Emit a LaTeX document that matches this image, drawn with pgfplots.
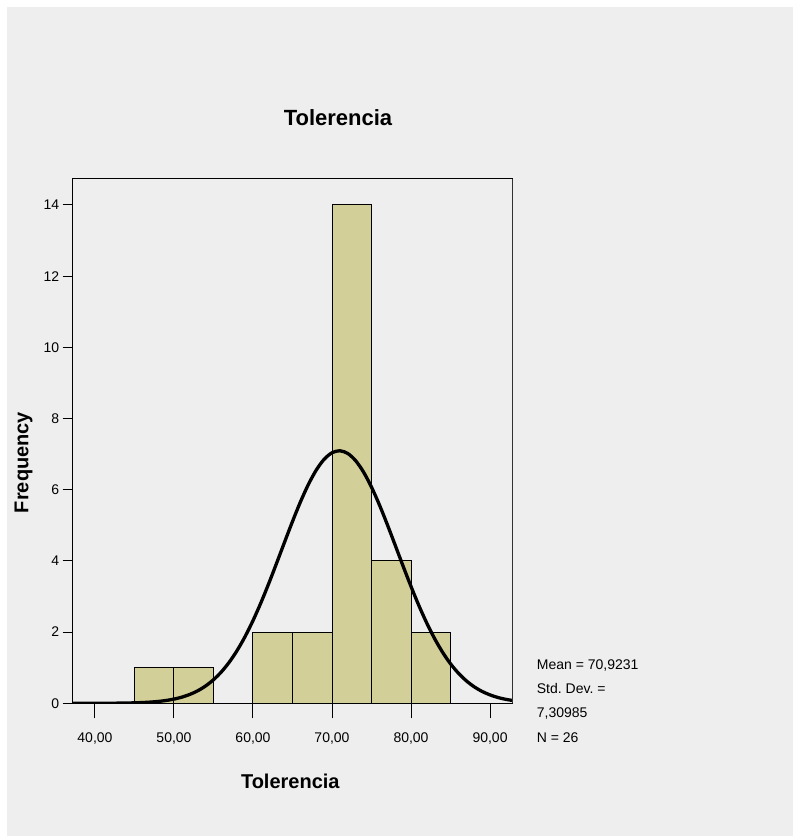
\documentclass[border=0pt]{standalone}
\usepackage{pgfplots}
\pgfplotsset{compat=1.18}
\usepackage{fontspec}
\setmainfont{Liberation Sans}
\definecolor{bg}{RGB}{238,238,238}
\definecolor{barfill}{RGB}{211,207,152}
\definecolor{rightline}{RGB}{140,140,140}
\begin{document}
\frenchspacing
\begin{tikzpicture}[x=1pt,y=1pt]
\fill[white] (0,0) rectangle (793,836);
\fill[bg] (7,0) rectangle (793,829);
\useasboundingbox (0,0) rectangle (793,836);
\begin{axis}[
  at={(72.7pt,132.7pt)}, anchor=south west,
  scale only axis, width=439.6pt, height=524.3pt,
  xmin=37.18, xmax=92.82, ymin=0, ymax=14.73,
  xtick={40,50,60,70,80,90},
  minor xtick={40,50,60,70,80,90},
  xticklabels={{40,00},{50,00},{60,00},{70,00},{80,00},{90,00}},
  ytick={0,2,4,6,8,10,12,14},
  yticklabels={0,2,4,6,8,10,12,14},
  tick align=outside, tick pos=left,
  major tick length=10pt,
  minor tick length=15pt,
  tick style={black, line width=1pt},
  minor tick style={black, line width=1pt},
  axis line style={black, line width=1pt},
  xticklabel style={font=\fontsize{14}{16}\selectfont, yshift=-16pt},
  yticklabel style={font=\fontsize{14}{16}\selectfont},
  title={Tolerencia},
  title style={font=\bfseries\fontsize{22}{24}\selectfont, at={(rel axis cs:0.6035,1.1047)}, anchor=center},
  xlabel={Tolerencia},
  xlabel style={font=\bfseries\fontsize{20}{22}\selectfont, at={(rel axis cs:0.495,-0.1495)}, anchor=center},
  ylabel={Frequency},
  ylabel style={font=\bfseries\fontsize{20}{22}\selectfont, at={(rel axis cs:-0.112,0.4593)}, anchor=center, rotate=0},
  clip=true,
]
\addplot[ybar interval, fill=barfill, draw=black, line width=1pt]
  coordinates {(45,1) (50,1) (55,0) (60,2) (65,2) (70,14) (75,4) (80,2) (85,2)};
\addplot[smooth, black, line width=3.3pt] coordinates {
(37,0.00015) (38,0.00030) (39,0.00051) (40,0.00092) (41,0.00163) (42,0.0028) (43,0.0048)
(44,0.0080) (45,0.0132) (46,0.0212) (47,0.0335) (48,0.052) (49,0.079)
(50,0.118) (51,0.173) (52,0.249) (53,0.351) (54,0.487) (55,0.662)
(56,0.883) (57,1.157) (58,1.487) (59,1.876) (60,2.324) (61,2.824)
(62,3.368) (63,3.944) (64,4.531) (65,5.109) (66,5.656) (67,6.144)
(68,6.550) (69,6.854) (70,7.039) (71,7.095) (72,7.018) (73,6.814)
(74,6.493) (75,6.073) (76,5.575) (77,5.022) (78,4.440) (79,3.853)
(80,3.282) (81,2.744) (82,2.251) (83,1.812) (84,1.432) (85,1.110)
(86,0.846) (87,0.632) (88,0.463) (89,0.333) (90,0.236) (91,0.163)
(92,0.111) (93,0.074)};
\draw[rightline, line width=1pt] (rel axis cs:1,0) -- (rel axis cs:1,1);
\end{axis}
\begin{scope}[every node/.style={font=\fontsize{14}{16}\selectfont, anchor=base west, inner sep=0pt}]
\node at (536.7,166) {Mean = 70,9231};
\node at (536.7,142) {Std. Dev. =};
\node at (536.7,118) {7,30985};
\node at (536.7,93) {N = 26};
\end{scope}
\end{tikzpicture}
\end{document}
